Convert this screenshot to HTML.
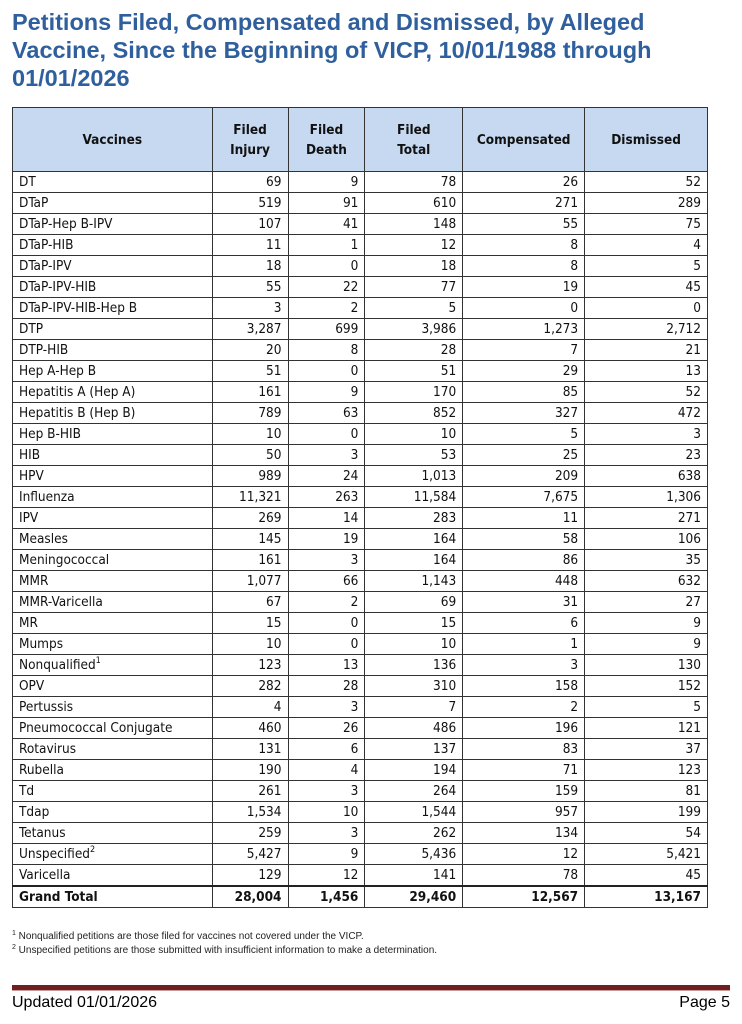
<!DOCTYPE html>
<html><head><meta charset="utf-8">
<style>
body{margin:0;width:742px;height:1024px;background:#fff;position:relative;font-family:"Liberation Sans",sans-serif;overflow:hidden}
#title{position:absolute;left:12px;top:8px;width:720px;font-weight:bold;font-size:23.5px;line-height:28px;color:#2f5f9c}
table{position:absolute;left:12px;top:107px;width:696px;border-collapse:collapse;font-family:"DejaVu Sans Condensed","Liberation Sans Narrow","Liberation Sans",sans-serif;font-size:13.5px;color:#111}
td,th{border:1.5px solid #333;padding:0 6px;height:20px;line-height:18px;overflow:hidden}
th{background:#c6d9f0;font-weight:bold;height:63px;line-height:20px;text-align:center}
td.n{text-align:right}
sup{line-height:0;font-size:9px;vertical-align:6px}
tr.gt td{font-weight:bold;border-top:2.5px solid #222}
#notes{position:absolute;left:12px;top:930px;font-size:10px;line-height:14px;color:#222}
#notes sup{font-size:7px;vertical-align:4px}
#rule{position:absolute;left:12px;top:985px;width:718px;height:5px;background:#6e1f22;border-bottom:1px solid #c99}
#upd{position:absolute;left:12px;top:994px;font-size:16px}
#pg{position:absolute;right:12px;top:994px;font-size:16px}
</style></head><body>
<div id="title">Petitions Filed, Compensated and Dismissed, by Alleged Vaccine, Since the Beginning of VICP, 10/01/1988 through 01/01/2026</div>
<table id="tbl">
<colgroup><col style="width:200px"><col style="width:76px"><col style="width:77px"><col style="width:98px"><col style="width:122px"><col style="width:123px"></colgroup>
<thead><tr><th>Vaccines</th><th>Filed<br>Injury</th><th>Filed<br>Death</th><th>Filed<br>Total</th><th>Compensated</th><th>Dismissed</th></tr></thead>
<tbody id="tb"></tbody></table>
<div id="notes"><sup>1</sup> Nonqualified petitions are those filed for vaccines not covered under the VICP.<br><sup>2</sup> Unspecified petitions are those submitted with insufficient information to make a determination.</div>
<div id="rule"></div>
<div id="upd">Updated 01/01/2026</div>
<div id="pg">Page 5</div>
<script>
const vaccines=["DT","DTaP","DTaP-Hep B-IPV","DTaP-HIB","DTaP-IPV","DTaP-IPV-HIB","DTaP-IPV-HIB-Hep B","DTP","DTP-HIB","Hep A-Hep B","Hepatitis A (Hep A)","Hepatitis B (Hep B)","Hep B-HIB","HIB","HPV","Influenza","IPV","Measles","Meningococcal","MMR","MMR-Varicella","MR","Mumps","Nonqualified<sup>1</sup>","OPV","Pertussis","Pneumococcal Conjugate","Rotavirus","Rubella","Td","Tdap","Tetanus","Unspecified<sup>2</sup>","Varicella"];
const filedInjury=[69,519,107,11,18,55,3,3287,20,51,161,789,10,50,989,11321,269,145,161,1077,67,15,10,123,282,4,460,131,190,261,1534,259,5427,129];
const filedDeath=[9,91,41,1,0,22,2,699,8,0,9,63,0,3,24,263,14,19,3,66,2,0,0,13,28,3,26,6,4,3,10,3,9,12];
const filedTotal=[78,610,148,12,18,77,5,3986,28,51,170,852,10,53,1013,11584,283,164,164,1143,69,15,10,136,310,7,486,137,194,264,1544,262,5436,141];
const compensated=[26,271,55,8,8,19,0,1273,7,29,85,327,5,25,209,7675,11,58,86,448,31,6,1,3,158,2,196,83,71,159,957,134,12,78];
const dismissed=[52,289,75,4,5,45,0,2712,21,13,52,472,3,23,638,1306,271,106,35,632,27,9,9,130,152,5,121,37,123,81,199,54,5421,45];
const grand=[28004,1456,29460,12567,13167];
const fmt=v=>v.toLocaleString('en-US');
const tb=document.getElementById('tb');
const cols=['filed-injury','filed-death','filed-total','compensated','dismissed'];
function addRow(name,vals,cls,key){
  const tr=document.createElement('tr');
  
  
  if(cls)tr.className=cls;
  const td=document.createElement('td');
  td.innerHTML=name;
  
  
  tr.appendChild(td);
  vals.forEach((v,j)=>{
    const c=document.createElement('td');c.className='n';c.textContent=fmt(v);
    
    
    tr.appendChild(c);
  });
  tb.appendChild(tr);
}
vaccines.forEach((n,i)=>{
  const key=n.replace(/<[^>]*>.*$/,'').toLowerCase().replace(/[^a-z0-9]+/g,'-').replace(/^-|-$/g,'');
  addRow(n,[filedInjury[i],filedDeath[i],filedTotal[i],compensated[i],dismissed[i]],'',key);
});
addRow('Grand Total',grand,'gt','grand-total');
</script>
</body></html>
